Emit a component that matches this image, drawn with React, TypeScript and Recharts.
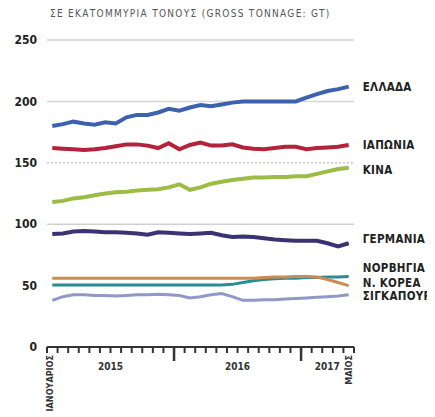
import { LineChart, Line, XAxis, YAxis, ReferenceLine, LabelList } from 'recharts';

// Ιαν 2015 - Μάιος 2017, μηνιαία
const months = [
  '2015-01', '2015-02', '2015-03', '2015-04', '2015-05', '2015-06', '2015-07', '2015-08', '2015-09', '2015-10', '2015-11', '2015-12',
  '2016-01', '2016-02', '2016-03', '2016-04', '2016-05', '2016-06', '2016-07', '2016-08', '2016-09', '2016-10', '2016-11', '2016-12',
  '2017-01', '2017-02', '2017-03', '2017-04', '2017-05',
];

const greece = [180, 181.5, 183.5, 182, 181, 183, 182, 187, 189, 189, 191, 194, 192.5, 195, 197, 196, 197.5, 199, 200, 200, 200, 200, 200, 200, 203, 206, 208.5, 210, 212];
const japan = [162, 161.5, 161, 160.5, 161, 162, 163.5, 165, 165, 164, 162, 166, 161, 164.5, 166.5, 164, 164, 165, 162.5, 161.5, 161, 162, 163, 163, 161, 162, 162.5, 163, 164.5];
const china = [118, 119, 121, 122, 123.5, 125, 126, 126.5, 127.5, 128, 128.5, 130, 132.5, 128, 130, 133, 134.5, 136, 137, 138, 138, 138.5, 138.5, 139, 139, 141, 143, 145, 146];
const germany = [92, 92.5, 94, 94.5, 94, 93.5, 93.5, 93, 92.5, 91.5, 93.5, 93, 92.5, 92, 92.5, 93, 91, 89.5, 90, 89.5, 88.5, 87.5, 87, 86.5, 86.5, 86.5, 84.5, 82, 84.5];
const norway = [50.5, 50.5, 50.5, 50.5, 50.5, 50.5, 50.5, 50.5, 50.5, 50.5, 50.5, 50.5, 50.5, 50.5, 50.5, 50.5, 50.5, 51, 52.5, 54, 55, 55.5, 56, 56, 56.5, 56.5, 57, 57, 57.5];
const korea = [56, 56, 56, 56, 56, 56, 56, 56, 56, 56, 56, 56, 56, 56, 56, 56, 56, 56, 56, 56, 56.5, 57, 57, 57.5, 57.5, 57, 55, 52.5, 50];
const singapore = [38, 41, 42.5, 42.5, 42, 42, 41.5, 42, 42.5, 42.5, 43, 42.5, 42, 40, 41, 42.5, 43.5, 41, 38, 38, 38.5, 38.5, 39, 39.5, 40, 40.5, 41, 41.5, 42.5];

const yTicks = [0, 50, 100, 150, 200, 250];
const monthTicks = Array.from({ length: months.length + 1 }, (_, i) => i);
const yearStarts = [12, 24];
// which boundary tick carries which name, and how far it is nudged
const tickNames: Record<number, { text: string; dx: number; rotated?: boolean }> = {
  0: { text: 'ΙΑΝΟΥΑΡΙΟΣ', dx: 6, rotated: true },
  6: { text: '2015', dx: 0 },
  18: { text: '2016', dx: 0 },
  26: { text: '2017', dx: 5 },
  29: { text: 'ΜΑΪΟΣ', dx: -2, rotated: true },
};

const series = [
  { key: 'greece', name: 'ΕΛΛΑΔΑ', color: '#3d62ad', width: 4, dy: 0 },
  { key: 'japan', name: 'ΙΑΠΩΝΙΑ', color: '#b3233b', width: 4, dy: 0 },
  { key: 'china', name: 'ΚΙΝΑ', color: '#9cbc45', width: 4, dy: 2 },
  { key: 'germany', name: 'ΓΕΡΜΑΝΙΑ', color: '#3a3272', width: 4, dy: -4 },
  { key: 'norway', name: 'ΝΟΡΒΗΓΙΑ', color: '#2b8c95', width: 3, dy: -8 },
  { key: 'korea', name: 'Ν. ΚΟΡΕΑ', color: '#c98c55', width: 3, dy: -3 },
  { key: 'singapore', name: 'ΣΙΓΚΑΠΟΥΡΗ', color: '#8f98c6', width: 3, dy: 1 },
];

const data = months.map((m, i) => ({
  month: m,
  x: i + 0.5,
  greece: greece[i],
  japan: japan[i],
  china: china[i],
  germany: germany[i],
  norway: norway[i],
  korea: korea[i],
  singapore: singapore[i],
}));

const FONT = '"DejaVu Sans Condensed", "DejaVu Sans", sans-serif';

// tickSize 6 + tickMargin 0 => props.y sits 6px under the axis line
const xTick = (p: any) => {
  const v = p.payload.value;
  const base = p.y - 6;
  const name = tickNames[v];
  const big = yearStarts.includes(v);
  return (
    <g>
      {big && <line x1={p.x} x2={p.x} y1={base} y2={base + 14} stroke="#333" strokeWidth={2.5} />}
      {name && name.rotated && (
        <text x={p.x + name.dx} y={base + 8} transform={`rotate(-90 ${p.x + name.dx} ${base + 8})`} textAnchor="end" fontFamily={FONT} fontWeight="bold" fontSize={9} fill="#333">
          {name.text}
        </text>
      )}
      {name && !name.rotated && (
        <text x={p.x + name.dx} y={base + 23} textAnchor="middle" fontFamily={FONT} fontWeight="bold" fontSize={10} fill="#333">
          {name.text}
        </text>
      )}
    </g>
  );
};

const endLabel = (name: string, dy: number) => (p: any) => {
  if (p.index !== months.length - 1) return null;
  return (
    <text x={p.x + 14} y={p.y + dy + 4} fontFamily={FONT} fontWeight="bold" fontSize={11.5} letterSpacing={0.3} fill="#222">
      {name}
    </text>
  );
};

export default function App() {
  return (
    <div style={{ width: 427 }}>
      <div style={{ height: 16, paddingLeft: 42, fontFamily: FONT, fontSize: 10, lineHeight: '12px', color: '#555', letterSpacing: 1.3, whiteSpace: 'nowrap' }}>
        ΣΕ ΕΚΑΤΟΜΜΥΡΙΑ ΤΟΝΟΥΣ (GROSS TONNAGE: GT)
      </div>
      <LineChart width={427} height={393} data={data} margin={{ top: 16, right: 81, bottom: 0, left: 0 }}>
        <XAxis dataKey="x" type="number" domain={[0, 29]} ticks={monthTicks} height={70} tickSize={6} tickMargin={0} tickLine={{ stroke: '#333', strokeWidth: 2 }} axisLine={{ stroke: '#333', strokeWidth: 2 }} tick={xTick} interval={0} />
        <YAxis domain={[0, 250]} ticks={yTicks} width={39} tickSize={0} tickMargin={10} axisLine={false} tickLine={false} tick={{ fontFamily: FONT, fontWeight: 'bold', fontSize: 12, fill: '#222' }} interval={0} />
        <ReferenceLine y={250} stroke="#cfcfcf" strokeWidth={1.5} />
        <ReferenceLine y={200} stroke="#d6d6d6" strokeWidth={1.5} />
        <ReferenceLine y={150} stroke="#b8b8b8" strokeWidth={1.2} strokeDasharray="2 2" />
        <ReferenceLine y={100} stroke="#d0d0d0" strokeWidth={1.5} />
        {series.map((s) => (
          <Line
            key={s.key}
            type="linear"
            dataKey={s.key}
            name={s.name}
            stroke={s.color}
            strokeWidth={s.width}
            dot={false}
            isAnimationActive={false}
          >
            <LabelList dataKey={s.key} content={endLabel(s.name, s.dy)} />
          </Line>
        ))}
      </LineChart>
    </div>
  );
}
